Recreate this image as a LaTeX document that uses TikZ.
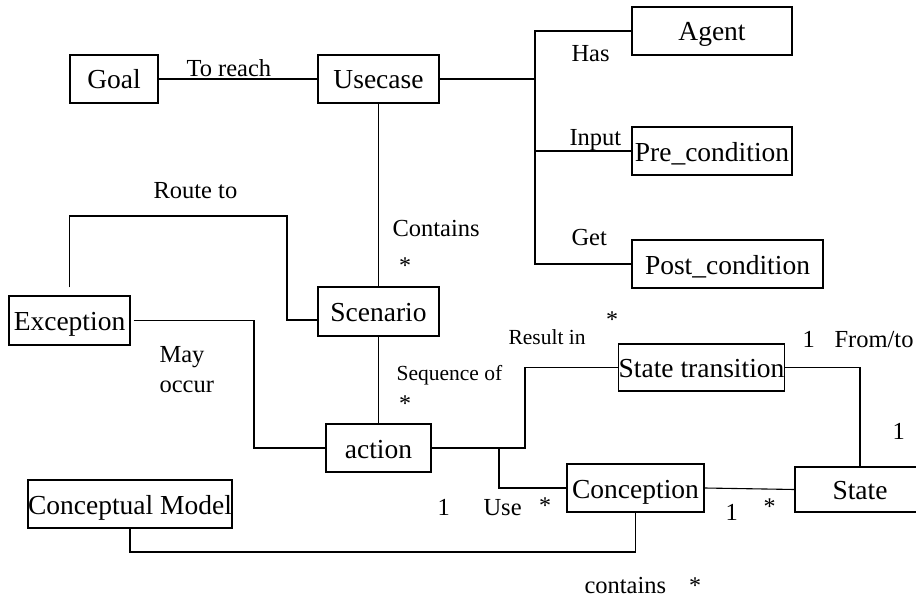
\documentclass[tikz,border=0pt]{standalone}
\usepackage{fontspec}
\setmainfont{Liberation Serif}
\begin{document}
\begin{tikzpicture}[x=1pt,y=-1pt,
  line width=1.1pt,
  box/.style={draw,rectangle,inner sep=0pt,text height=20pt,text depth=0pt,
    font=\fontsize{27.5}{27.5}\selectfont,minimum height=48pt},
  lbl/.style={anchor=base west,inner sep=0pt,font=\fontsize{24.5}{24.5}\selectfont},
  slbl/.style={anchor=base west,inner sep=0pt,font=\fontsize{21.5}{21.5}\selectfont},
  mult/.style={anchor=base,inner sep=0pt,font=\fontsize{24}{24}\selectfont}]
\useasboundingbox (0,0) rectangle (916,599);
\clip (0,0) rectangle (916,599);

% classes
\node[box,minimum width=88pt]  (goal) at (114,79)    {Goal};
\node[box,minimum width=121pt] (uc)   at (378.5,79)  {Usecase};
\node[box,minimum width=160pt] (agent) at (712,31)   {Agent};
\node[box,minimum width=160pt] (pre)  at (712,151)   {Pre\_condition};
\node[box,minimum width=191pt] (post) at (727.5,264) {Post\_condition};
\node[box,minimum width=121pt,minimum height=49pt] (scen) at (378.5,311.5) {Scenario};
\node[box,minimum width=121pt,minimum height=49pt] (exc)  at (69.5,320.5)  {Exception};
\node[box,minimum width=105pt] (act)  at (378.5,448) {action};
\node[box,minimum width=165pt,minimum height=47pt] (st) at (701.5,367.5) {State transition};
\node[box,minimum width=137pt] (con)  at (635.5,488) {Conception};
\node[box,minimum width=130pt,minimum height=45pt] (state) at (860,489.5) {State};
\node[box,minimum width=200pt] (cm)   at (130,504)   {Conceptual Model};

% bend points
\coordinate (br) at (535,79);
\coordinate (rt) at (287,216);
\coordinate (mo) at (254,400);
\coordinate (ra) at (525,400);
\coordinate (ub) at (499,448);
\coordinate (cb) at (400,552);

% associations
\draw (goal.east) -- (uc.west);
\draw (uc.east) -- (br);
\draw (agent.west) -| (br) |- (post.west);
\draw (pre.west) -- (pre.west -| br);
\draw (uc.south) -- (scen.north);
\draw[shorten <=8pt] (exc.north) |- (rt) |- ([yshift=-8.5pt]scen.west);
\draw[shorten <=3pt] (exc.east) -| (mo) |- (act.west);
\draw (scen.south) -- (act.north);
\draw (act.east) -| (ra) |- (st.west);
\draw (ub) |- (con.west);
\draw (st.east) -| (state.north);
\draw (con.east) -- (state.west);
\draw (con.south) |- (cb) -| (cm.south);

% role names
\node[lbl] (l1) at (186,77)  {To reach};
\node[lbl] (l2) at (571,62)  {Has};
\node[lbl] (l3) at (569,146) {Input};
\node[lbl] (l4) at (571,245) {Get};
\node[lbl] (l5) at (392,236) {Contains};
\node[lbl] (l6) at (153,199) {Route to};
\node[lbl] (l7) at (159,362) {May};
\node[lbl] (l8) at (159,392) {occur};
\node[slbl] (l9) at (396,380) {Sequence of};
\node[slbl] (l10) at (508,344) {Result in};
\node[lbl] (l11) at (834,347) {From/to};
\node[lbl] (l12) at (483,515) {Use};
\node[lbl] (l13) at (584,593) {contains};

% multiplicities
\node[mult] (m1) at (405,273) {*};
\node[mult] (m2) at (405,411) {*};
\node[mult] (m3) at (612,327) {*};
\node[mult] (m4) at (545,513) {*};
\node[mult] (m5) at (769.5,514) {*};
\node[mult] (m6) at (695,593) {*};
\node[lbl] (n1) at (802,347) {1};
\node[lbl] (n2) at (892,439) {1};
\node[lbl] (n3) at (437,515) {1};
\node[lbl] (n4) at (725,520) {1};
\end{tikzpicture}
\end{document}
